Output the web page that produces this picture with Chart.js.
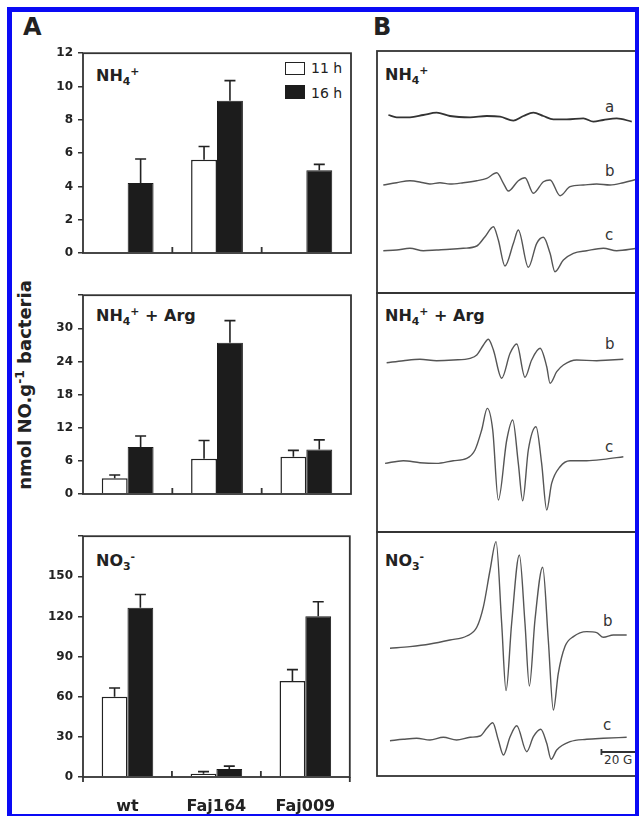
<!DOCTYPE html>
<html>
<head>
<meta charset="utf-8">
<script src="https://cdn.jsdelivr.net/npm/chart.js@4"></script>
<style>
  body { margin: 0; width: 639px; height: 816px; overflow: hidden; background: #fff; position: relative;
         font-family: "DejaVu Sans", sans-serif; color: #222; }
  canvas { position: absolute; }
  .t { position: absolute; line-height: 1; white-space: nowrap; }
  .b { font-weight: bold; }
  sub, sup { font-size: 0.68em; line-height: 0; }
  .box { position: absolute; box-sizing: border-box; }
  #frame { position: absolute; left: 7px; top: 7px; width: 633px; height: 812px; box-sizing: border-box;
           border: 5px solid #0a0af5; z-index: 10; }
</style>
</head>
<body>
<div id="frame"></div>

<div class="t b" style="left:23px;top:15px;font-size:24px">A</div>
<div class="t b" style="left:373px;top:15px;font-size:24px">B</div>

<div class="t b" style="left:96px;top:68px;font-size:16px">NH<sub>4</sub><sup>+</sup></div>
<div class="t b" style="left:96px;top:308px;font-size:16px">NH<sub>4</sub><sup>+</sup> + Arg</div>
<div class="t b" style="left:96px;top:553px;font-size:16px">NO<sub>3</sub><sup>-</sup></div>

<div class="t b" style="left:385px;top:67px;font-size:16px">NH<sub>4</sub><sup>+</sup></div>
<div class="t b" style="left:385px;top:308px;font-size:16px">NH<sub>4</sub><sup>+</sup> + Arg</div>
<div class="t b" style="left:385px;top:553px;font-size:16px">NO<sub>3</sub><sup>-</sup></div>

<div class="box" style="left:285px;top:62px;width:20px;height:13px;border:1.5px solid #222;background:#fff"></div>
<div class="box" style="left:285px;top:85px;width:20px;height:14px;background:#1c1c1c"></div>
<div class="t" style="left:311px;top:61px;font-size:14px">11 h</div>
<div class="t" style="left:311px;top:86px;font-size:14px">16 h</div>

<div class="t b" style="left:25px;top:385px;font-size:18px;transform:translate(-50%,-50%) rotate(-90deg)">nmol NO.g<sup>-1</sup> bacteria</div>

<div class="t" style="left:605px;top:100px;font-size:15px;color:#333">a</div>
<div class="t" style="left:605px;top:164px;font-size:15px;color:#333">b</div>
<div class="t" style="left:605px;top:228px;font-size:15px;color:#333">c</div>
<div class="t" style="left:605px;top:337px;font-size:15px;color:#333">b</div>
<div class="t" style="left:605px;top:440px;font-size:15px;color:#333">c</div>
<div class="t" style="left:603px;top:614px;font-size:15px;color:#333">b</div>
<div class="t" style="left:603px;top:718px;font-size:15px;color:#333">c</div>
<div class="t" style="left:604px;top:754px;font-size:12px;color:#333">20 G</div>

<canvas id="aTop" width="316" height="262" style="left:40px;top:41px"></canvas>
<canvas id="aMid" width="316" height="261" style="left:40px;top:283px"></canvas>
<canvas id="aBot" width="316" height="293" style="left:40px;top:524px"></canvas>
<canvas id="bTop" width="267" height="246" style="left:375px;top:49px"></canvas>
<canvas id="bMid" width="267" height="243" style="left:375px;top:291px"></canvas>
<canvas id="bBot" width="267" height="248" style="left:375px;top:530px"></canvas>

<script>
// panel A: NO produced (nmol NO.g-1 bacteria)
const categories = ["wt", "Faj164", "Faj009"];

const nh4_11h = [null, 5.6, null];
const nh4_16h = [4.2, 9.15, 4.97];
const nh4_11h_err = [null, 0.8, null];
const nh4_16h_err = [1.45, 1.2, 0.35];

const arg_11h = [2.85, 6.4, 6.75];
const arg_16h = [8.5, 27.4, 8.05];
const arg_11h_err = [0.6, 3.3, 1.15];
const arg_16h_err = [2.0, 4.0, 1.75];

const no3_11h = [60, 2.5, 71.7];
const no3_16h = [126.5, 5.9, 120.1];
const no3_11h_err = [6.5, 1.5, 8.6];
const no3_16h_err = [9.9, 2.2, 10.9];

// panel B: EPR spectra, field (G) vs signal (a.u.)
const nh4A_field = [6.5, 11.2, 18.8, 26.4, 34.0, 41.6, 53.1, 62.6, 70.2, 77.8, 83.5, 89.2, 94.9, 100.6, 108.2, 117.7, 123.4, 129.1, 136.7, 145.3];
const nh4A_sig = [2.3, 0, 0, 2.3, 4.7, 1.3, 0, 1.3, 0.7, -3.3, 1.3, 4.7, 1.3, -2, -2, -1, -4.3, -2.7, -1, -4.3];

const nh4B_field = [3.6, 11.2, 18.8, 26.4, 30.2, 35.9, 41.6, 49.2, 56.9, 62.6, 68.3, 72.1, 74.9, 80.6, 84.4, 89.2, 94.9, 98.7, 104.4, 110.1, 117.7, 125.3, 132.9, 140.5, 148.1];
const nh4B_sig = [-1, 1.3, 3.3, 1.3, 0, 1.3, 0, 1.3, 3.3, 5.7, 11.3, 0.7, -7, 3.3, 6.3, -9.3, 2.3, 4, -11.7, -2.7, -1, 0, -1, 1.3, 4.7];

const nh4C_field = [3.6, 11.2, 18.8, 26.4, 34.0, 41.6, 49.2, 56.9, 61.6, 66.4, 69.2, 73.0, 77.8, 80.6, 86.3, 91.1, 94.9, 98.7, 101.5, 106.3, 112.0, 119.6, 129.1, 136.7, 148.1];
const nh4C_sig = [-0.7, 0, 1.7, -0.7, 0, 0.7, 1.7, 4, 13.3, 23.3, 10, -16, 6.7, 20, -17.3, 6.7, 12.7, -3.3, -21.7, -10, -3.3, -0.7, 1.7, -0.7, 1.7];

const argB_field = [5.5, 15.0, 24.5, 34.0, 43.5, 53.1, 56.9, 60.7, 63.5, 66.4, 71.1, 75.9, 79.7, 84.4, 88.2, 93.0, 96.8, 98.7, 102.5, 106.3, 113.9, 125.3, 132.9, 140.5];
const argB_sig = [-1.7, 0.3, 1.7, 0.3, 1, 2.7, 6, 16, 21.7, 11, -17.3, 7.7, 17, -16.3, 1, 12.7, -5.7, -22.3, -10.7, -4, 1, 0.3, 1, 1.7];

const argC_field = [4.6, 15.0, 24.5, 34.0, 43.5, 51.2, 55.9, 59.7, 62.9, 66.0, 69.2, 74.0, 77.4, 80.6, 83.1, 86.3, 90.7, 93.9, 96.8, 99.6, 104.4, 110.1, 119.6, 129.1, 140.5];
const argC_sig = [-0.7, 2, 0, -0.7, 2, 4.3, 12.7, 32.7, 54.3, 32.7, -37.3, 22.7, 42.7, -0.7, -38, 12.7, 36, -0.7, -47.3, -20.7, -4, 2, 2, 3.3, 6];

const no3B_field = [7.4, 18.8, 30.2, 41.6, 51.2, 56.9, 60.7, 64.5, 67.9, 71.1, 73.6, 76.8, 81.2, 84.4, 86.9, 90.1, 94.5, 97.7, 100.6, 103.4, 107.2, 112.0, 119.6, 125.3, 129.1, 134.8, 142.4];
const no3B_sig = [0, 1.7, 4.3, 8.3, 12.3, 21, 41.7, 78.3, 106.7, 25, -42.3, 25, 93.3, 25, -37.7, 28.3, 81, 8.3, -61.7, -25, 1.7, 11.7, 16.7, 15.7, 11, 13.3, 13.3];

const no3C_field = [7.4, 15.0, 22.6, 30.2, 37.8, 45.4, 53.1, 58.8, 62.6, 66.0, 69.2, 72.1, 75.9, 79.7, 85.4, 89.2, 93.4, 96.8, 99.3, 102.5, 110.1, 119.6, 129.1, 142.4];
const no3C_sig = [-0.7, 0.7, 1.7, 0, 2.7, 0, 2.7, 4, 11.7, 17.3, 0, -15, 3.3, 14.3, -11.7, 3.3, 10.7, -3.3, -19.3, -10, -1.7, 0.7, 1.7, 2.7];

const INK = "#222";
const LINE = "#333";

const framePlugin = {
  id: "frame",
  afterDraw(chart, args, o) {
    const { ctx, chartArea: a } = chart;
    ctx.save();
    ctx.strokeStyle = LINE;
    ctx.lineWidth = 1.8;
    ctx.strokeRect(a.left, a.top, a.right - a.left, a.bottom - a.top);
    ctx.beginPath();
    if (o.ticks) {
      const x = chart.scales.x;
      for (let i = 1; i < categories.length; i++) {
        const bx = (x.getPixelForValue(i - 1) + x.getPixelForValue(i)) / 2;
        ctx.moveTo(bx, a.bottom);
        ctx.lineTo(bx, a.bottom - 6);
      }
    }
    if (o.extend) {
      ctx.moveTo(a.left, a.bottom);
      ctx.lineTo(a.left, a.bottom + o.extend);
      ctx.moveTo(a.right, a.bottom);
      ctx.lineTo(a.right, a.bottom + o.extend);
    }
    if (o.scaleBar) {
      const x = chart.scales.x, y = chart.scales.y;
      const x1 = x.getPixelForValue(o.scaleBar[0]), x2 = x.getPixelForValue(o.scaleBar[1]);
      const yy = y.getPixelForValue(o.scaleBar[2]);
      ctx.moveTo(x1, yy); ctx.lineTo(x2, yy);
      ctx.moveTo(x1, yy - 3); ctx.lineTo(x1, yy + 3);
      ctx.moveTo(x2, yy - 3); ctx.lineTo(x2, yy + 3);
    }
    ctx.stroke();
    ctx.restore();
  },
};

const errPlugin = {
  id: "errbars",
  afterDatasetsDraw(chart) {
    const { ctx } = chart;
    const y = chart.scales.y;
    ctx.save();
    ctx.strokeStyle = INK;
    ctx.lineWidth = 1.6;
    chart.data.datasets.forEach((ds, i) => {
      chart.getDatasetMeta(i).data.forEach((bar, j) => {
        const v = ds.data[j], e = ds.errors[j];
        if (v == null || e == null) return;
        const top = y.getPixelForValue(v + e);
        ctx.beginPath();
        ctx.moveTo(bar.x, bar.y);
        ctx.lineTo(bar.x, top);
        ctx.moveTo(bar.x - 5.5, top);
        ctx.lineTo(bar.x + 5.5, top);
        ctx.stroke();
      });
    });
    ctx.restore();
  },
};

function barChart(id, d11, d16, e11, e16, max, step, showLabels) {
  new Chart(document.getElementById(id), {
    type: "bar",
    data: {
      labels: categories,
      datasets: [
        { label: "11 h", data: d11, errors: e11, backgroundColor: "#fff", borderColor: INK, borderWidth: 1.5 },
        { label: "16 h", data: d16, errors: e16, backgroundColor: "#1c1c1c", borderColor: "#1c1c1c", borderWidth: 1 },
      ],
    },
    options: {
      responsive: false,
      devicePixelRatio: 1,
      animation: false,
      layout: { padding: { top: 10, bottom: showLabels ? 0 : 10, left: 0, right: 5 } },
      categoryPercentage: 0.58,
      barPercentage: 1.0,
      plugins: {
        legend: { display: false },
        tooltip: { enabled: false },
        frame: { ticks: true, extend: showLabels ? 5 : 0 },
      },
      scales: {
        x: {
          display: showLabels,
          grid: { display: false, drawTicks: false },
          border: { display: false },
          ticks: { color: INK, padding: 20, font: { family: "DejaVu Sans", size: 16, weight: "bold" } },
          afterFit: (s) => { s.height = 40; },
        },
        y: {
          min: 0,
          max: max,
          grid: { drawOnChartArea: false, drawTicks: true, tickLength: 5, color: LINE, lineWidth: 1.5 },
          border: { display: false },
          ticks: {
            stepSize: step,
            padding: 5,
            color: INK,
            font: { family: "DejaVu Sans", size: 12, weight: "bold" },
            callback: (v) => (max > 12 && v === max ? "" : v),
          },
          afterFit: (s) => { s.width = 43; },
        },
      },
    },
    plugins: [framePlugin, errPlugin],
  });
}

barChart("aTop", nh4_11h, nh4_16h, nh4_11h_err, nh4_16h_err, 12, 2, false);
barChart("aMid", arg_11h, arg_16h, arg_11h_err, arg_16h_err, 36, 6, false);
barChart("aBot", no3_11h, no3_16h, no3_11h_err, no3_16h_err, 180, 30, true);

function traceChart(id, traces, ymax, scaleBar) {
  new Chart(document.getElementById(id), {
    type: "line",
    data: {
      datasets: traces.map((t) => ({
        data: t.field.map((f, i) => ({ x: f, y: t.sig[i] + t.offset })),
        borderColor: t.color,
        borderWidth: t.width,
        pointRadius: 0,
        cubicInterpolationMode: "monotone",
        fill: false,
      })),
    },
    options: {
      responsive: false,
      devicePixelRatio: 1,
      animation: false,
      layout: { padding: 2 },
      plugins: {
        legend: { display: false },
        tooltip: { enabled: false },
        frame: { scaleBar: scaleBar },
      },
      scales: {
        x: { type: "linear", min: 0, max: 150, display: false },
        y: { min: 0, max: ymax, display: false },
      },
    },
    plugins: [framePlugin],
  });
}

traceChart("bTop", [
  { field: nh4A_field, sig: nh4A_sig, offset: 175.7, color: "#333", width: 1.8 },
  { field: nh4B_field, sig: nh4B_sig, offset: 109, color: "#555", width: 1.4 },
  { field: nh4C_field, sig: nh4C_sig, offset: 43, color: "#555", width: 1.4 },
], 242);

traceChart("bMid", [
  { field: argB_field, sig: argB_sig, offset: 171, color: "#555", width: 1.4 },
  { field: argC_field, sig: argC_sig, offset: 69.3, color: "#555", width: 1.4 },
], 239);

traceChart("bBot", [
  { field: no3B_field, sig: no3B_sig, offset: 127.7, color: "#555", width: 1.4 },
  { field: no3C_field, sig: no3C_sig, offset: 36, color: "#555", width: 1.4 },
], 244, [128, 148, 24]);
</script>
</body>
</html>
